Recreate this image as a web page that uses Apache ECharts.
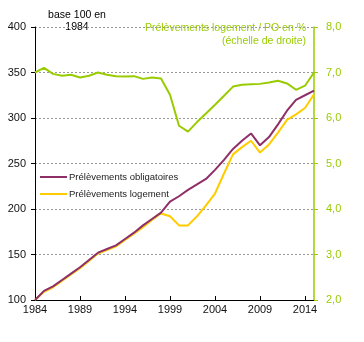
<!DOCTYPE html>
<html>
<head>
<meta charset="utf-8">
<script src="https://cdn.jsdelivr.net/npm/echarts@6/dist/echarts.min.js"></script>
<style>
html,body{margin:0;padding:0;background:#fff;}
#chart{width:364px;height:342px;}
</style>
</head>
<body>
<div id="chart"></div>
<script>
var years = ['1984','1985','1986','1987','1988','1989','1990','1991','1992','1993','1994','1995','1996','1997','1998','1999','2000','2001','2002','2003','2004','2005','2006','2007','2008','2009','2010','2011','2012','2013','2014','2015'];
var prelevementsObligatoires = [100,110,115,122,129,136,144,152,156,160,167,174,182,189,196,208,214,221,227,233,243,254,266,275,283,270,279,293,308,320,325,330];
var prelevementsLogement = [100,109,114,121,128,135,143,151,155,159,166,173,180,188,195,192,182,182,192,204,217,239,260,268,275,262,271,284,298,304,311,326];
var ratioLogementPO = [7.00,7.10,6.97,6.93,6.95,6.89,6.93,7.00,6.95,6.92,6.91,6.92,6.86,6.89,6.87,6.51,5.83,5.70,5.91,6.10,6.29,6.49,6.69,6.73,6.74,6.75,6.78,6.82,6.76,6.62,6.71,7.00];
var leftTicks = {min:100, max:400, interval:50};
var rightTicks = {min:2, max:8, interval:1};

var PURPLE = '#8e2f68';
var YELLOW = '#ffcc00';
var GREEN = '#99cc00';
var FONT = '"Liberation Sans", Arial, sans-serif';

var chart = echarts.init(document.getElementById('chart'), null, {renderer:'canvas'});
chart.setOption({
  animation:false,
  backgroundColor:'#fff',
  textStyle:{fontFamily:FONT},
  title:[
    {text:'base 100 en\n1984', left:72, top:4, textAlign:'center', z:-1,
     textStyle:{fontSize:10.5, fontWeight:'normal', color:'#000', lineHeight:12, fontFamily:FONT}},
    {text:'Prélèvements logement / PO en %\n(échelle de droite)', left:301, top:16, textAlign:'right', z:-1,
     textStyle:{fontSize:10.5, fontWeight:'normal', color:GREEN, lineHeight:13.5, align:'right', fontFamily:FONT}}
  ],
  legend:[
    {data:['Prélèvements obligatoires'], left:35, top:167, icon:'rect', itemWidth:27, itemHeight:2, itemGap:0,
     textStyle:{fontSize:9.5, color:'#222', fontFamily:FONT, padding:[0,0,0,-3]}},
    {data:['Prélèvements logement'], left:35, top:184, icon:'rect', itemWidth:27, itemHeight:2, itemGap:0,
     textStyle:{fontSize:9.5, color:'#222', fontFamily:FONT, padding:[0,0,0,-3]}}
  ],
  grid:{left:35, right:50, top:27, bottom:42, containLabel:false},
  xAxis:{
    type:'category', data:years, boundaryGap:false,
    axisLine:{lineStyle:{color:'#000', width:1}},
    axisTick:{inside:true, length:4, interval:4, lineStyle:{color:'#000'}},
    axisLabel:{interval:4, fontSize:11, color:'#111', margin:4, fontFamily:FONT},
    splitLine:{show:false}
  },
  yAxis:[
    {type:'value', min:leftTicks.min, max:leftTicks.max, interval:leftTicks.interval,
     axisLine:{show:true, lineStyle:{color:'#000'}},
     axisTick:{show:true, length:4, lineStyle:{color:'#000'}},
     axisLabel:{fontSize:11, color:'#111', margin:9, fontFamily:FONT},
     splitLine:{show:true, lineStyle:{color:'#999', type:[2,2], width:1}}},
    {type:'value', position:'right', min:rightTicks.min, max:rightTicks.max, interval:rightTicks.interval,
     axisLine:{show:true, lineStyle:{color:GREEN, width:1.5}},
     axisTick:{show:true, length:4, lineStyle:{color:GREEN}},
     axisLabel:{fontSize:11, color:GREEN, margin:12, fontFamily:FONT,
       formatter:function(v){return v.toFixed(1).replace('.',',');}},
     splitLine:{show:false}}
  ],
  series:[
    {name:'Prélèvements logement / PO en %', type:'line', yAxisIndex:1, data:ratioLogementPO,
     symbol:'none', lineStyle:{color:GREEN, width:2}, itemStyle:{color:GREEN}, z:2},
    {name:'Prélèvements logement', type:'line', data:prelevementsLogement,
     symbol:'none', lineStyle:{color:YELLOW, width:2}, itemStyle:{color:YELLOW}, z:3},
    {name:'Prélèvements obligatoires', type:'line', data:prelevementsObligatoires,
     symbol:'none', lineStyle:{color:PURPLE, width:2}, itemStyle:{color:PURPLE}, z:4}
  ]
});
</script>
</body>
</html>
